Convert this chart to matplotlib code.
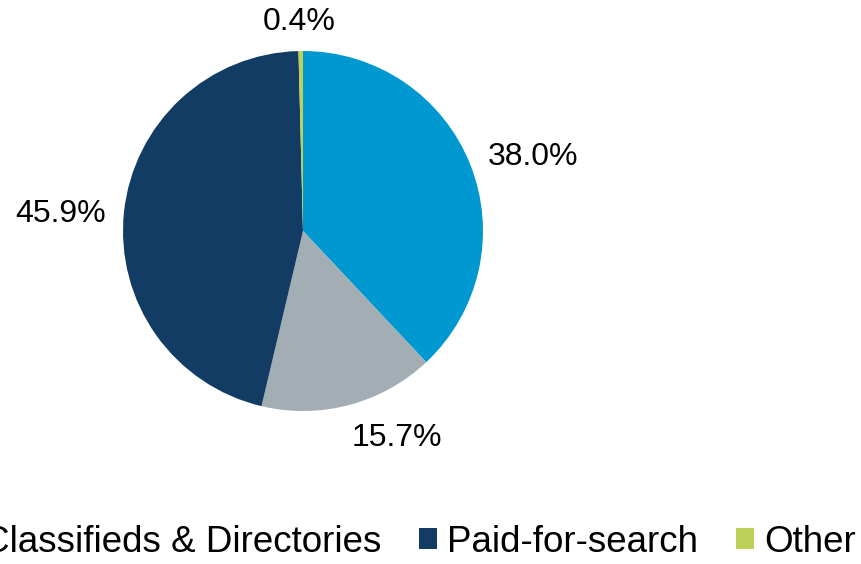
import numpy as np
import matplotlib.pyplot as plt
from matplotlib.patches import Patch

plt.rcParams['font.family'] = ['Liberation Sans', 'DejaVu Sans']

# category shares (%)
labels = ["Display", "Classifieds & Directories", "Paid-for-search", "Other"]
shares = [38.0, 15.7, 45.9, 0.4]
colors = ["#0098D1", "#A2ADB4", "#133C64", "#BDD159"]

# label placement: distance from centre (radii) and angle nudge (deg)
label_r = [1.34, 1.26, 1.35, 1.16]
label_da = [-3.8, 9.4, 1.9, 0.4]

fig = plt.figure(figsize=(8.61, 5.64), dpi=100)
ax = fig.add_axes([78/861, 108/564, 450/861, 450/564])

wedges, _ = ax.pie(shares, colors=colors, startangle=90, counterclock=False,
                   wedgeprops=dict(linewidth=0))

for w, v, r, da in zip(wedges, shares, label_r, label_da):
    mid = np.deg2rad((w.theta1 + w.theta2) / 2 + da)
    ax.text(r*np.cos(mid), r*np.sin(mid), f"{v:.1f}%", ha="center", va="center",
            fontsize=23)

# legend runs off the left edge, as in the original
handles = [Patch(facecolor=c, edgecolor="none") for c in colors]
fig.legend(handles, labels, loc="center right", bbox_to_anchor=(856/861, 22/564),
           ncol=4, frameon=False, fontsize=26.5, handlelength=0.49, handleheight=0.49,
           handletextpad=0.27, columnspacing=1.03, borderaxespad=0, borderpad=0)

fig.savefig("out.png", dpi=100)
